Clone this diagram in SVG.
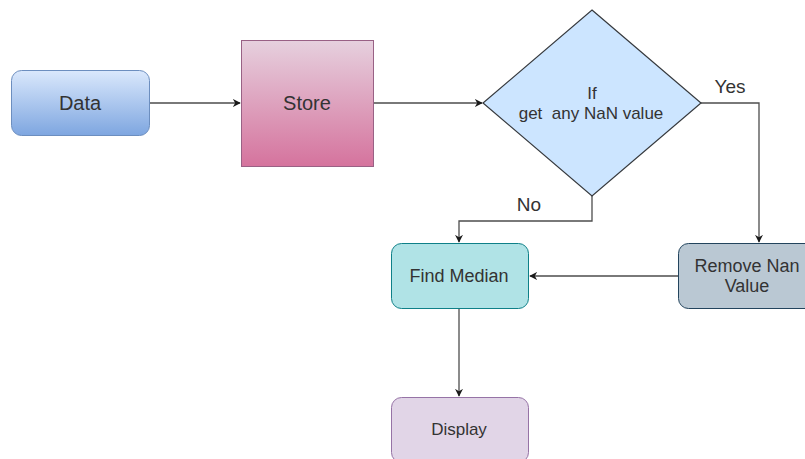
<svg xmlns="http://www.w3.org/2000/svg" width="805" height="459" viewBox="0 0 805 459">
<style>
.t{font-family:"Liberation Sans",Arial,sans-serif;fill:#333333;text-anchor:middle}
.c{fill:none;stroke:#4d4d4d;stroke-width:1.3}
</style>
<defs>
<linearGradient id="gBlue" x1="0" y1="0" x2="0" y2="1"><stop offset="0" stop-color="#dae8fc"/><stop offset="1" stop-color="#7ea6e0"/></linearGradient>
<linearGradient id="gPink" x1="0" y1="0" x2="0" y2="1"><stop offset="0" stop-color="#e6d0de"/><stop offset="1" stop-color="#d5739d"/></linearGradient>
<marker id="arr" viewBox="0 0 10 10" refX="9" refY="5" markerWidth="8" markerHeight="8" markerUnits="userSpaceOnUse" orient="auto"><path d="M0,0 L10,5 L0,10 L3,5 Z" fill="#1a1a1a"/></marker>
</defs>
<rect width="805" height="459" fill="#ffffff"/>
<g id="connectors">
<path class="c" d="M150,103 H240" marker-end="url(#arr)"/>
<path class="c" d="M374,103 H482" marker-end="url(#arr)"/>
<path class="c" d="M701,103 H759 V242" marker-end="url(#arr)"/>
<path class="c" d="M592,196 V221 H459 V242" marker-end="url(#arr)"/>
<path class="c" d="M678,276 H530" marker-end="url(#arr)"/>
<path class="c" d="M459,309 V396" marker-end="url(#arr)"/>
<text class="t" x="730" y="93" font-size="19">Yes</text>
<text class="t" x="529" y="211" font-size="19">No</text>
</g>
<g id="data">
<rect x="11.5" y="70.5" width="138" height="65" rx="10" fill="url(#gBlue)" stroke="#6c8ebf"/>
<text class="t" x="80" y="110" font-size="20">Data</text>
</g>
<g id="store">
<rect x="241.5" y="40.5" width="132" height="126" fill="url(#gPink)" stroke="#996185"/>
<text class="t" x="307" y="110" font-size="20">Store</text>
</g>
<g id="decision">
<path d="M592,10 L701,103 L592,196 L483,103 Z" fill="#cce5ff" stroke="#36393d" stroke-width="1.2"/>
<text class="t" x="592" y="99" font-size="17">If</text>
<text class="t" x="591" y="119" font-size="17" xml:space="preserve">get  any NaN value</text>
</g>
<g id="find-median">
<rect x="391.5" y="243.5" width="137" height="65" rx="10" fill="#b0e3e6" stroke="#0e8088"/>
<text class="t" x="459" y="282" font-size="18">Find Median</text>
</g>
<g id="remove-nan">
<rect x="678.5" y="243.5" width="137" height="65" rx="10" fill="#bac8d3" stroke="#23445d"/>
<text class="t" x="747" y="272" font-size="18">Remove Nan</text>
<text class="t" x="747" y="292" font-size="18">Value</text>
</g>
<g id="display">
<rect x="391.5" y="397.5" width="137" height="65" rx="10" fill="#e1d5e7" stroke="#9673a6"/>
<text class="t" x="459" y="435" font-size="17">Display</text>
</g>
</svg>
